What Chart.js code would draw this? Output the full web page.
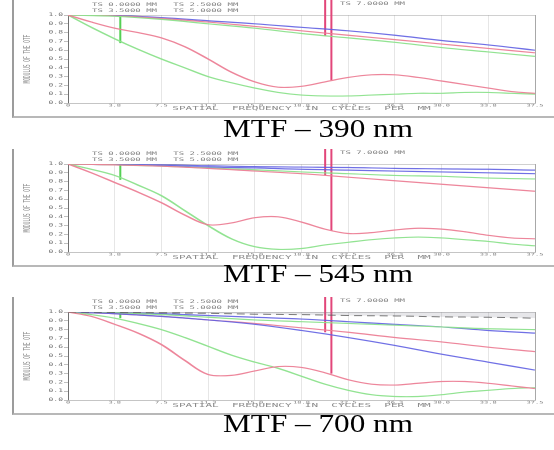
<!DOCTYPE html>
<html>
<head>
<meta charset="utf-8">
<script src="https://cdn.jsdelivr.net/npm/chart.js@4.4.0/dist/chart.umd.min.js"></script>
<style>
  body { margin: 0; width: 554px; height: 450px; overflow: hidden; background: #fff; }
  .frame { position: absolute; left: 12px; width: 540px; height: 116px; border-left: 2px solid #9c9c9c; border-bottom: 2px solid #b8b8b8; }
  .squash { position: absolute; left: 14px; width: 540px; height: 232px; transform: scaleY(0.5); transform-origin: 0 0; }
  .caption { position: absolute; left: 218px; width: 200px; text-align: center; white-space: nowrap;
             font: 26px/26px "Liberation Serif", "Times New Roman", serif; color: #000; transform: scaleX(1.2); }
</style>
</head>
<body>
<div class="frame" style="top:0px"></div>
<div class="squash" style="top:0px"><canvas id="mtf-390" width="540" height="232"></canvas></div>
<div class="caption" style="top:116px">MTF – 390 nm</div>

<div class="frame" style="top:149px"></div>
<div class="squash" style="top:149px"><canvas id="mtf-545" width="540" height="232"></canvas></div>
<div class="caption" style="top:261px">MTF – 545 nm</div>

<div class="frame" style="top:297px"></div>
<div class="squash" style="top:297px"><canvas id="mtf-700" width="540" height="232"></canvas></div>
<div class="caption" style="top:411px">MTF – 700 nm</div>

<script>
'use strict';

/////////////////////
//// Data ///////////

const freqTicks = [0, 3.75, 7.5, 11.25, 15, 18.75, 22.5, 26.25, 30, 33.75, 37.5];
const freqFine = [0, 1.875, 3.75, 5.625, 7.5, 9.375, 11.25, 13.125, 15, 16.875, 18.75,
  20.625, 22.5, 24.375, 26.25, 28.125, 30, 31.875, 33.75, 35.625, 37.5];

// 390 nm
const blue390 = [1.0, 0.995, 0.97, 0.935, 0.90, 0.86, 0.82, 0.77, 0.71, 0.66, 0.60];
const redTop390 = [1.0, 0.99, 0.96, 0.92, 0.87, 0.82, 0.77, 0.72, 0.67, 0.62, 0.57];
const greenTop390 = [1.0, 0.985, 0.95, 0.90, 0.85, 0.79, 0.74, 0.69, 0.63, 0.58, 0.53];
const red390 = [1.0, 0.92, 0.85, 0.80, 0.74, 0.64, 0.50, 0.35, 0.24, 0.18, 0.19,
  0.24, 0.29, 0.32, 0.32, 0.29, 0.25, 0.21, 0.17, 0.13, 0.11];
const green390 = [1.0, 0.86, 0.73, 0.61, 0.50, 0.40, 0.30, 0.23, 0.17, 0.12, 0.09,
  0.08, 0.08, 0.09, 0.10, 0.11, 0.11, 0.12, 0.12, 0.11, 0.10];

// 545 nm
const blueA545 = [1.0, 0.995, 0.99, 0.98, 0.97, 0.965, 0.96, 0.95, 0.945, 0.94, 0.93];
const blueB545 = [1.0, 0.99, 0.98, 0.965, 0.955, 0.94, 0.93, 0.92, 0.91, 0.90, 0.89];
const greenTop545 = [1.0, 0.99, 0.975, 0.955, 0.935, 0.91, 0.89, 0.87, 0.86, 0.84, 0.83];
const redTop545 = [1.0, 0.99, 0.975, 0.95, 0.92, 0.89, 0.85, 0.81, 0.77, 0.73, 0.69];
const red545 = [1.0, 0.90, 0.79, 0.68, 0.56, 0.42, 0.31, 0.33, 0.39, 0.40, 0.34,
  0.26, 0.21, 0.22, 0.25, 0.27, 0.26, 0.23, 0.19, 0.16, 0.15];
const green545 = [1.0, 0.94, 0.87, 0.76, 0.64, 0.47, 0.30, 0.15, 0.06, 0.03, 0.04,
  0.08, 0.11, 0.14, 0.16, 0.17, 0.16, 0.14, 0.12, 0.09, 0.07];

// 700 nm
const diff700 = [1.0, 0.995, 0.99, 0.985, 0.975, 0.97, 0.96, 0.955, 0.945, 0.94, 0.93];
const blueA700 = [1.0, 0.99, 0.98, 0.96, 0.94, 0.92, 0.89, 0.86, 0.83, 0.79, 0.76];
const greenTop700 = [1.0, 0.99, 0.97, 0.94, 0.91, 0.89, 0.87, 0.85, 0.83, 0.81, 0.80];
const redTop700 = [1.0, 0.98, 0.95, 0.91, 0.87, 0.82, 0.77, 0.71, 0.66, 0.60, 0.55];
const blueB700 = [1.0, 0.98, 0.95, 0.91, 0.86, 0.79, 0.71, 0.62, 0.52, 0.43, 0.34];
const red700 = [1.0, 0.95, 0.86, 0.76, 0.63, 0.45, 0.29, 0.28, 0.33, 0.38, 0.37,
  0.31, 0.23, 0.18, 0.17, 0.19, 0.21, 0.21, 0.19, 0.16, 0.13];
const green700 = [1.0, 0.97, 0.93, 0.87, 0.80, 0.71, 0.61, 0.51, 0.43, 0.36, 0.27,
  0.18, 0.11, 0.06, 0.04, 0.04, 0.06, 0.09, 0.11, 0.13, 0.14];

// legend marker strokes: green, red, red
const markerFreqs = [4.2, 20.65, 21.15];
const markerTops = [1.0, 1.17, 1.17];
const markerEnds390 = [0.68, 0.76, 0.26];
const markerEnds545 = [0.82, 0.87, 0.24];
const markerEnds700 = [0.93, 0.77, 0.30];

const headerRows = ['TS 0.0000 MM   TS 2.5000 MM', 'TS 3.5000 MM   TS 5.0000 MM', 'TS 7.0000 MM'];

/////////////////////
//// Helpers ////////

const BLUE = 'rgba(96, 96, 226, 0.9)';
const RED = 'rgba(236, 128, 150, 0.95)';
const GREEN = 'rgba(140, 226, 140, 0.95)';
const MONO = '"DejaVu Sans Mono", monospace';

const pairs = function (freqs, values) {
  return freqs.map((f, i) => ({ x: f, y: values[i] }));
};

const curve = function (freqs, values, color, extra) {
  return Object.assign({
    data: pairs(freqs, values),
    borderColor: color,
    borderWidth: 2.4,
    pointRadius: 0,
    tension: 0.35
  }, extra || {});
};

const markers = function (ends) {
  const colors = ['#55d055', '#e2467a', '#e2467a'];
  return markerFreqs.map((f, i) => ({
    data: [{ x: f, y: markerTops[i] }, { x: f, y: ends[i] }],
    borderColor: colors[i],
    borderWidth: 2,
    pointRadius: 0,
    clip: false
  }));
};

const headerText = {
  id: 'headerText',
  afterDraw(chart) {
    const ctx = chart.ctx;
    const top = chart.chartArea.top;
    ctx.save();
    ctx.font = '9px ' + MONO;
    ctx.fillStyle = '#808080';
    ctx.textBaseline = 'middle';
    ctx.fillText(headerRows[0], 78, top - 20);
    ctx.fillText(headerRows[1], 78, top - 8);
    ctx.fillText(headerRows[2], 326, top - 22);
    ctx.restore();
  }
};

const makeChart = function (id, datasets) {
  const ctx = document.getElementById(id).getContext('2d');
  return new Chart(ctx, {
    type: 'line',
    data: { datasets: datasets },
    plugins: [headerText],
    options: {
      responsive: false,
      animation: false,
      devicePixelRatio: 1,
      layout: { padding: { left: 8, right: 19, top: 30, bottom: 8 } },
      plugins: { legend: { display: false }, tooltip: { enabled: false } },
      scales: {
        x: {
          type: 'linear',
          min: 0,
          max: 37.5,
          afterBuildTicks: function (scale) { scale.ticks = freqTicks.map(v => ({ value: v })); },
          afterFit: function (scale) { scale.height = 18; },
          border: { color: '#8a8a8a' },
          grid: {
            drawTicks: false,
            color: c => (c.tick && c.tick.value === 37.5) ? '#a8a8a8' : '#e6e6e6'
          },
          ticks: {
            autoSkip: false,
            maxRotation: 0,
            padding: 1,
            color: '#808080',
            font: { size: 7, family: MONO },
            callback: v => v === 0 ? '0' : v.toFixed(1)
          },
          title: {
            display: true,
            text: 'SPATIAL  FREQUENCY  IN  CYCLES  PER  MM',
            color: '#8a8a8a',
            padding: 0,
            font: { size: 11, family: MONO }
          }
        },
        y: {
          min: 0,
          max: 1,
          afterFit: function (scale) { scale.width = 46; },
          border: { color: '#707070' },
          grid: {
            tickLength: 4,
            tickColor: '#808080',
            color: c => (c.tick && c.tick.value === 1) ? '#a0a0a0' : 'rgba(0,0,0,0)'
          },
          ticks: {
            stepSize: 0.1,
            padding: 1,
            color: '#707070',
            font: { size: 8, family: MONO },
            callback: v => v.toFixed(1)
          },
          title: {
            display: true,
            text: 'MODULUS OF THE OTF',
            color: '#8a8a8a',
            padding: 0,
            font: { size: 9, family: MONO }
          }
        }
      }
    }
  });
};

/////////////////////
//// Charts /////////

makeChart('mtf-390', [
  curve(freqFine, red390, RED),
  curve(freqFine, green390, GREEN),
  curve(freqTicks, greenTop390, GREEN),
  curve(freqTicks, redTop390, RED),
  curve(freqTicks, blue390, BLUE)
].concat(markers(markerEnds390)));

makeChart('mtf-545', [
  curve(freqFine, red545, RED),
  curve(freqFine, green545, GREEN),
  curve(freqTicks, redTop545, RED),
  curve(freqTicks, greenTop545, GREEN),
  curve(freqTicks, blueB545, BLUE),
  curve(freqTicks, blueA545, BLUE)
].concat(markers(markerEnds545)));

makeChart('mtf-700', [
  curve(freqTicks, diff700, 'rgba(90, 90, 90, 0.8)', {
    borderDash: [8, 5], borderWidth: 2,
    fill: { value: 1 }, backgroundColor: 'rgba(120, 120, 140, 0.18)'
  }),
  curve(freqFine, red700, RED),
  curve(freqFine, green700, GREEN),
  curve(freqTicks, blueB700, BLUE),
  curve(freqTicks, redTop700, RED),
  curve(freqTicks, greenTop700, GREEN),
  curve(freqTicks, blueA700, BLUE)
].concat(markers(markerEnds700)));
</script>
</body>
</html>
